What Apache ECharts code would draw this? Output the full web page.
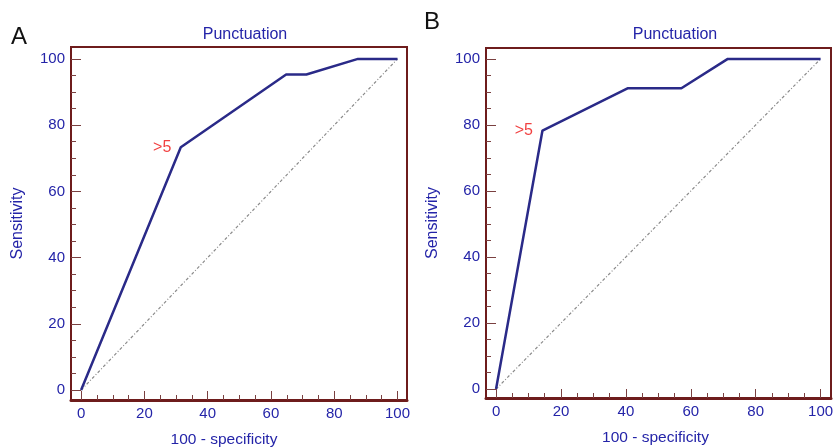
<!DOCTYPE html>
<html>
<head>
    <meta charset="utf-8">
    <title>Punctuation ROC</title>
    <script src="https://cdn.jsdelivr.net/npm/echarts@6/dist/echarts.min.js"></script>
</head>
<body style="margin:0">
    <div id="chart" style="width: 833px;height:448px;"></div>
    <script type="text/javascript">
        // ROC points (100 - specificity, sensitivity)
        var rocA_x = [0, 31.5, 64.8, 71.2, 87.5, 100];
        var rocA_y = [0, 73.3, 95.3, 95.3, 100, 100];
        var rocB_x = [0, 14.3, 40.5, 57.1, 71.4, 100];
        var rocB_y = [0, 78.3, 91.1, 91.1, 100, 100];
        var cutIndex = 1;
        var cutLabel = '>5';
        var majorTicks = [0, 20, 40, 60, 80, 100];
        var minorTicks = [0, 5, 10, 15, 20, 25, 30, 35, 40, 45, 50, 55, 60, 65, 70, 75, 80, 85, 90, 95, 100];
        var diagonal = [0, 100];

        var blue = '#2424a8';
        var frame = '#6e1c1c';
        var tickCol = '#7a4040';
        var font = 'Liberation Sans';

        function pairs(xs, ys) {
            return xs.map(function (x, i) { return [x, ys[i]]; });
        }

        function axesFor(grid, xr, yr, namePad) {
            var xs = [
                {
                    type: 'value', gridIndex: grid, position: 'bottom', min: xr[0], max: xr[1],
                    axisLine: {show: true, onZero: false, lineStyle: {color: frame, width: 3}},
                    axisTick: {show: true, inside: true, length: 9, customValues: majorTicks, lineStyle: {color: tickCol, width: 1}},
                    axisLabel: {customValues: majorTicks, color: blue, fontSize: 15, fontFamily: font, margin: 6},
                    splitLine: {show: false},
                    name: '100 - specificity', nameLocation: 'middle', nameGap: 32,
                    nameTextStyle: {color: blue, fontSize: 15.5, fontFamily: font, padding: namePad}
                },
                {
                    type: 'value', gridIndex: grid, position: 'bottom', min: xr[0], max: xr[1],
                    axisLine: {show: false, onZero: false},
                    axisTick: {show: true, inside: true, length: 5, customValues: minorTicks, lineStyle: {color: tickCol, width: 1}},
                    axisLabel: {show: false},
                    splitLine: {show: false}
                }
            ];
            var ys = [
                {
                    type: 'value', gridIndex: grid, position: 'left', min: yr[0], max: yr[1],
                    axisLine: {show: true, onZero: false, lineStyle: {color: frame, width: 2}},
                    axisTick: {show: true, inside: true, length: 10, customValues: majorTicks, lineStyle: {color: tickCol, width: 1}},
                    axisLabel: {customValues: majorTicks, color: blue, fontSize: 15, fontFamily: font, margin: 6},
                    splitLine: {show: false},
                    name: 'Sensitivity', nameLocation: 'middle', nameGap: 45,
                    nameTextStyle: {color: blue, fontSize: 16, fontFamily: font}
                },
                {
                    type: 'value', gridIndex: grid, position: 'left', min: yr[0], max: yr[1],
                    axisLine: {show: false, onZero: false},
                    axisTick: {show: true, inside: true, length: 5, customValues: minorTicks, lineStyle: {color: tickCol, width: 1}},
                    axisLabel: {show: false},
                    splitLine: {show: false}
                }
            ];
            return {x: xs, y: ys};
        }

        function seriesFor(grid, xs, ys) {
            var xi = grid * 2, yi = grid * 2;
            return [
                {
                    type: 'line', xAxisIndex: xi, yAxisIndex: yi, silent: true,
                    data: [[diagonal[0], diagonal[0]], [diagonal[1], diagonal[1]]],
                    showSymbol: false,
                    lineStyle: {color: '#8a8a8a', width: 1.2, type: [3, 2, 1, 2]}
                },
                {
                    type: 'line', xAxisIndex: xi, yAxisIndex: yi,
                    data: pairs(xs, ys),
                    showSymbol: false,
                    lineStyle: {color: '#2a2a88', width: 2.5}
                },
                {
                    type: 'scatter', xAxisIndex: xi, yAxisIndex: yi,
                    data: [[xs[cutIndex], ys[cutIndex]]],
                    symbolSize: 1,
                    itemStyle: {color: 'rgba(0,0,0,0)'},
                    label: {show: true, formatter: cutLabel, position: 'left', distance: 9,
                        color: '#ee1111', fontSize: 16, fontFamily: font}
                }
            ];
        }

        var myChart = echarts.init(document.getElementById('chart'));
        var a = axesFor(0, [-3.2, 103], [-3, 103.6], [0, 30, 0, 0]);
        var b = axesFor(1, [-3.1, 103.2], [-2.7, 103.3], [0, 6, 0, 0]);

        var option = {
            animation: false,
            title: [
                {text: 'A', left: 6, top: 20, textStyle: {color: '#111', fontSize: 24, fontWeight: 'normal', fontFamily: font}},
                {text: 'B', left: 419, top: 5, textStyle: {color: '#111', fontSize: 24, fontWeight: 'normal', fontFamily: font}},
                {text: 'Punctuation', left: 240, top: 22, textAlign: 'center', textStyle: {color: blue, fontSize: 16, fontWeight: 'normal', fontFamily: font}},
                {text: 'Punctuation', left: 670, top: 22, textAlign: 'center', textStyle: {color: blue, fontSize: 16, fontWeight: 'normal', fontFamily: font}}
            ],
            grid: [
                {left: 71, top: 47, width: 336, height: 353, outerBoundsMode: 'none', show: true, borderColor: frame, borderWidth: 2, backgroundColor: '#fff'},
                {left: 486, top: 48, width: 345, height: 350, outerBoundsMode: 'none', show: true, borderColor: frame, borderWidth: 2, backgroundColor: '#fff'}
            ],
            xAxis: a.x.concat(b.x),
            yAxis: a.y.concat(b.y),
            series: seriesFor(0, rocA_x, rocA_y).concat(seriesFor(1, rocB_x, rocB_y))
        };
        myChart.setOption(option);
    </script>
</body>
</html>
